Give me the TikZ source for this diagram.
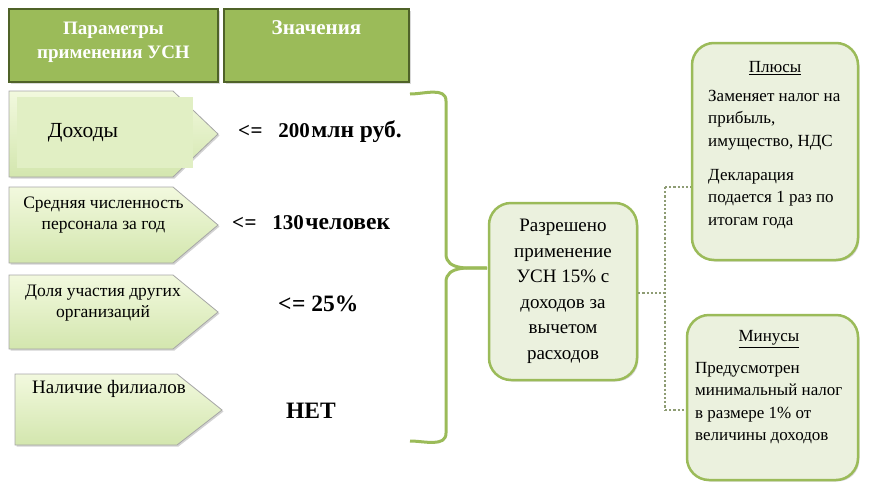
\documentclass[tikz,border=0pt]{standalone}
\usepackage{fontspec}
\setmainfont{Liberation Serif}
\usetikzlibrary{shadows}
\definecolor{hdrfill}{HTML}{9BBB59}
\definecolor{hdrline}{HTML}{4F6228}
\definecolor{boxfill}{HTML}{EBF1DE}
\definecolor{boxline}{HTML}{9BBB59}
\definecolor{pentop}{HTML}{F2F9DE}
\definecolor{penbot}{HTML}{D3E6AE}
\definecolor{dotcol}{HTML}{8E9C74}
\tikzset{
  hdr/.style={draw=hdrline, line width=2.5pt, fill=hdrfill, drop shadow={shadow xshift=1.5pt, shadow yshift=-1.5pt, opacity=0.3}},
  hdrtxt/.style={text=white, align=center, inner sep=0pt},
  pent/.style={draw=black!35, line width=0.8pt, top color=pentop, bottom color=penbot, drop shadow={shadow xshift=1.5pt, shadow yshift=-1.5pt, opacity=0.35}},
  pentxt/.style={font=\fontsize{17.5}{21}\selectfont, align=center, inner sep=0pt},
  valtxt/.style={font=\bfseries, inner sep=0pt},
  rbox/.style={draw=boxline, line width=2.5pt, fill=boxfill, rounded corners=22pt, drop shadow={shadow xshift=1.5pt, shadow yshift=-1.5pt, opacity=0.3}},
  btxt/.style={font=\fontsize{17}{22.5}\selectfont, align=left, inner sep=0pt, anchor=north west},
  bracecol/.style={draw=boxline, line width=3pt, line join=round},
  conn/.style={draw=dotcol, line width=2.2pt, dotted}
}
\newcommand{\numsz}{\fontsize{21}{24}\selectfont}
\newcommand{\wrdsz}{\fontsize{23.5}{26}\selectfont}
\begin{document}
\begin{tikzpicture}[x=1pt,y=-1pt]
\useasboundingbox (0,0) rectangle (872,493);
% headers
\draw[hdr] (9,9) rectangle (218,82);
\draw[hdr] (224,9) rectangle (409,82);
\node[hdrtxt, font=\fontsize{19}{24}\selectfont\bfseries] (h1) at (113.5,42.5) {Параметры\\применения УСН};
\node[hdrtxt, font=\fontsize{21}{24}\selectfont\bfseries] (h2) at (316.5,28) {Значения};
% pentagons
\draw[pent] (9,91) -- (173,91) -- (218,134) -- (173,177) -- (9,177) -- cycle;
\fill[color=pentop!45!penbot] (17,97) rectangle (193,168);
\node[font=\fontsize{21.5}{24}\selectfont, inner sep=0pt] (p1) at (83,133) {Доходы};
\draw[pent] (9,187) -- (173,187) -- (218,225) -- (173,263) -- (9,263) -- cycle;
\node[pentxt] (p2) at (103.5,215) {Средняя численность\\персонала за год};
\draw[pent] (9,275) -- (173,275) -- (218,312) -- (173,349) -- (9,349) -- cycle;
\node[pentxt] (p3) at (103,303) {Доля участия других\\организаций};
\draw[pent] (15,374) -- (177,374) -- (222,410) -- (177,445) -- (15,445) -- cycle;
\node[pentxt, font=\fontsize{19}{22}\selectfont] (p4) at (109,389) {Наличие филиалов};
% values
\node[valtxt, anchor=base west] (v1) at (238,137) {\numsz <\kern0.5pt= \ \ 200\kern1.5pt\wrdsz млн руб.};
\node[valtxt, anchor=base west] (v2) at (232,229) {\numsz <\kern0.5pt= \ \ 130\kern1.5pt\wrdsz человек};
\node[valtxt, anchor=base west, font=\fontsize{23.5}{26}\selectfont\bfseries] (v3) at (278,311) {<\kern0.5pt= 25\%};
\node[valtxt, anchor=base west, font=\fontsize{23.5}{26}\selectfont\bfseries] (v4) at (286,418) {НЕТ};
% right boxes
\node[rbox, minimum width=148pt, minimum height=177pt, inner sep=0pt] (c) at (563,291.5) {};
\node[font=\fontsize{19}{25.5}\selectfont, align=center, inner sep=0pt] (ct) at (563,291.5) {Разрешено\\применение\\УСН 15\% с\\доходов за\\вычетом\\расходов};
\node[rbox, minimum width=166pt, minimum height=217pt, inner sep=0pt] (plus) at (775,151.5) {};
\node[font=\fontsize{17}{20}\selectfont, inner sep=0pt] (plust) at (775,68) {\underline{Плюсы}};
\node[btxt] (pl1) at (708,90) {Заменяет налог на\\прибыль,\\имущество, НДС};
\node[btxt] (pl2) at (708,169) {Декларация\\подается 1 раз по\\итогам года};
\node[rbox, minimum width=171pt, minimum height=165pt, inner sep=0pt] (minus) at (772.5,397.5) {};
\node[font=\fontsize{17}{20}\selectfont, inner sep=0pt] (mint) at (769,339) {\underline{Минусы}};
\node[btxt] (mi1) at (695,362) {Предусмотрен\\минимальный налог\\в размере 1\% от\\величины доходов};
% brace
\coordinate (btip) at (487,268);
\draw[bracecol] (410,94) to[out=0,in=90] (446,101) -- (446,254) to[out=-90,in=180] (btip);
\draw[bracecol] (btip) to[out=180,in=90] (446,282) -- (446,433) to[out=-90,in=0] (410,441);
% dotted connectors
\coordinate (j) at (665,293);
\draw[conn] (c.east |- j) -- (j);
\draw[conn] (j |- 0,187) -- (j |- 0,410);
\draw[conn] (j |- 0,187) -- (plus.west |- 0,187);
\draw[conn] (j |- 0,410) -- (minus.west |- 0,410);
\end{tikzpicture}
\end{document}
